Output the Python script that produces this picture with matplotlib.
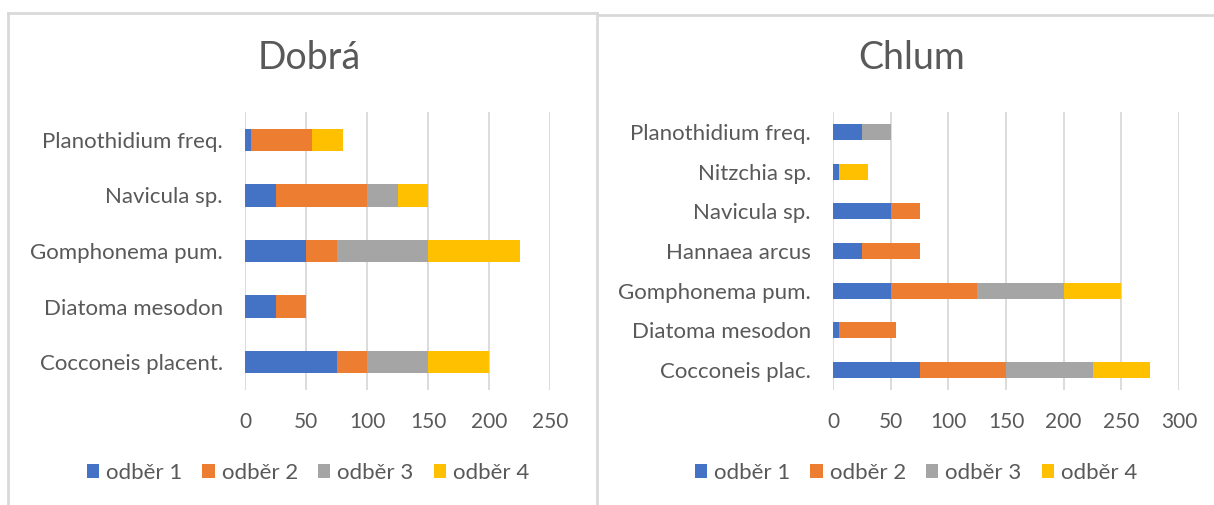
#!/usr/bin/env python3

import matplotlib
matplotlib.use("Agg")
import matplotlib.pyplot as plt
from matplotlib.lines import Line2D
import numpy as np


series = ["odběr 1", "odběr 2", "odběr 3", "odběr 4"]
colors = ["#4472C4", "#ED7D31", "#A5A5A5", "#FFC000"]

# bottom to top, as Excel draws them
dobra_taxa = ["Cocconeis placent.", "Diatoma mesodon", "Gomphonema pum.",
              "Navicula sp.", "Planothidium freq."]
dobra_1 = [75, 25, 50, 25, 5]
dobra_2 = [25, 25, 25, 75, 50]
dobra_3 = [50, 0, 75, 25, 0]
dobra_4 = [50, 0, 75, 25, 25]

chlum_taxa = ["Cocconeis plac.", "Diatoma mesodon", "Gomphonema pum.",
              "Hannaea arcus", "Navicula sp.", "Nitzchia sp.",
              "Planothidium freq."]
chlum_1 = [75, 5, 50, 25, 50, 5, 25]
chlum_2 = [75, 50, 75, 50, 25, 0, 0]
chlum_3 = [75, 0, 75, 0, 0, 0, 25]
chlum_4 = [50, 0, 50, 0, 0, 25, 0]

TEXT = "#595959"
GRID = "#D9D9D9"
FONT = ["Lato", "DejaVu Sans"]


def stacked(ax, taxa, rows, xmax, step):
    y = np.arange(len(taxa))
    left = np.zeros(len(taxa))
    for vals, color, name in zip(rows, colors, series):
        ax.barh(y, vals, left=left, height=0.4, color=color, label=name, zorder=3)
        left += np.array(vals)
    ax.set_xlim(0, xmax)
    ax.set_ylim(-0.5, len(taxa) - 0.5)
    ax.set_xticks(np.arange(0, xmax + 1, step))
    ax.set_yticks(y)
    ax.set_yticklabels(taxa)
    ax.grid(axis="x", color=GRID, linewidth=1.3, zorder=0)
    for s in ax.spines.values():
        s.set_visible(False)
    ax.tick_params(axis="both", length=0, colors=TEXT)
    ax.tick_params(axis="y", pad=16, labelsize=16)
    ax.tick_params(axis="x", pad=16, labelsize=15)
    for lab in ax.get_xticklabels() + ax.get_yticklabels():
        lab.set_family(FONT)


def main() -> None:
    fig = plt.figure(figsize=(12.14, 5.05), dpi=100)
    W, H = 1214, 505

    def box(x0, x1, y0=112, y1=390):
        return [x0 / W, 1 - y1 / H, (x1 - x0) / W, (y1 - y0) / H]

    ax_l = fig.add_axes(box(245, 550))
    stacked(ax_l, dobra_taxa, [dobra_1, dobra_2, dobra_3, dobra_4], 250, 50)
    ax_r = fig.add_axes(box(833, 1179))
    stacked(ax_r, chlum_taxa, [chlum_1, chlum_2, chlum_3, chlum_4], 300, 50)

    fig.text(309 / W, 1 - 58 / H, "Dobrá", ha="center", va="center",
             fontsize=27, color=TEXT, family=FONT)
    fig.text(912 / W, 1 - 58 / H, "Chlum", ha="center", va="center",
             fontsize=27, color=TEXT, family=FONT)

    for ax, cx in ((ax_l, 308), (ax_r, 916)):
        h, l = ax.get_legend_handles_labels()
        fig.legend(h, l, loc="center", bbox_to_anchor=(cx / W, 1 - 473 / H),
                   ncol=4, frameon=False, handlelength=0.55, handleheight=0.55,
                   handletextpad=0.32, columnspacing=0.9,
                   prop={"family": FONT, "size": 16}, labelcolor=TEXT)

    # chart area borders
    border = dict(color="#D9D9D9", linewidth=2, transform=fig.transFigure)
    fig.add_artist(Line2D([8 / W, 8 / W], [0, 1 - 13 / H], **border))
    fig.add_artist(Line2D([8 / W, 597 / W], [1 - 13 / H, 1 - 13 / H], **border))
    fig.add_artist(Line2D([597 / W, 597 / W], [0, 1 - 13 / H], **border))
    fig.add_artist(Line2D([597 / W, 1213 / W], [1 - 14.5 / H, 1 - 14.5 / H], **border))

    fig.savefig("out.png", dpi=100)


if __name__ == "__main__":
    main()
